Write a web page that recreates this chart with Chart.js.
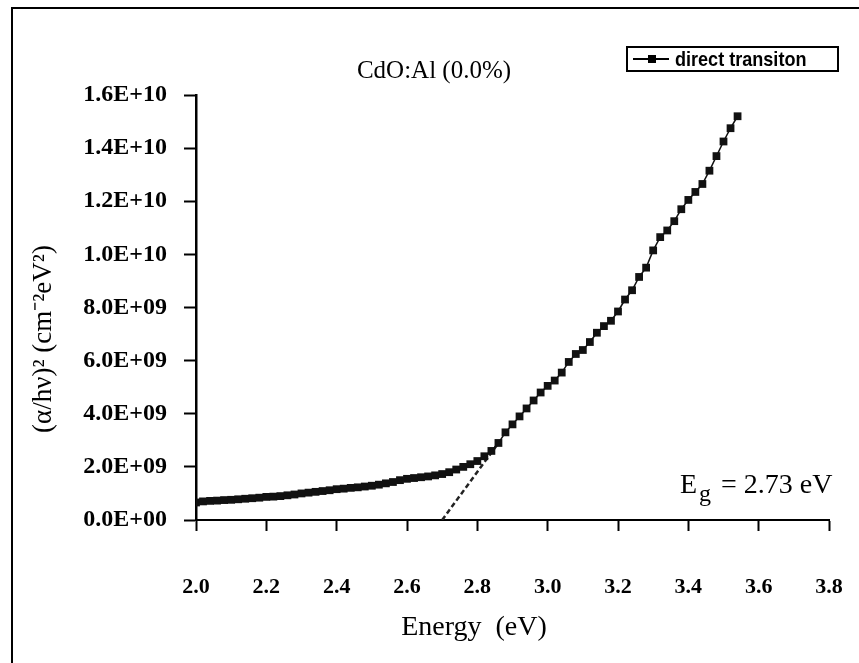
<!DOCTYPE html>
<html>
<head>
<meta charset="utf-8">
<script src="https://cdn.jsdelivr.net/npm/chart.js@4/dist/chart.umd.min.js"></script>
<style>
  html, body { margin: 0; padding: 0; background: #fff; }
  #wrap { width: 859px; height: 663px; }
</style>
</head>
<body>
<div id="wrap"><canvas id="chart" width="859" height="663"></canvas></div>
<script>
// photon energy (eV)
const energy = [
  2.00, 2.02, 2.04, 2.06, 2.08, 2.10, 2.12, 2.14, 2.16, 2.18,
  2.20, 2.22, 2.24, 2.26, 2.28, 2.30, 2.32, 2.34, 2.36, 2.38,
  2.40, 2.42, 2.44, 2.46, 2.48, 2.50, 2.52, 2.54, 2.56, 2.58,
  2.60, 2.62, 2.64, 2.66, 2.68, 2.70, 2.72, 2.74, 2.76, 2.78,
  2.80, 2.82, 2.84, 2.86, 2.88, 2.90, 2.92, 2.94, 2.96, 2.98,
  3.00, 3.02, 3.04, 3.06, 3.08, 3.10, 3.12, 3.14, 3.16, 3.18,
  3.20, 3.22, 3.24, 3.26, 3.28, 3.30, 3.32, 3.34, 3.36, 3.38,
  3.40, 3.42, 3.44, 3.46, 3.48, 3.50, 3.52, 3.54
];
// (alpha h nu)^2 in units of 1E9
const absorption = [
  0.66, 0.70, 0.72, 0.73, 0.75, 0.76, 0.78, 0.80, 0.82, 0.84,
  0.87, 0.88, 0.90, 0.93, 0.96, 1.00, 1.03, 1.06, 1.09, 1.12,
  1.16, 1.18, 1.21, 1.23, 1.26, 1.29, 1.33, 1.38, 1.43, 1.50,
  1.55, 1.58, 1.61, 1.64, 1.68, 1.73, 1.80, 1.90, 2.00, 2.10,
  2.22, 2.40, 2.60, 2.90, 3.30, 3.60, 3.90, 4.20, 4.50, 4.80,
  5.05, 5.25, 5.55, 5.95, 6.25, 6.40, 6.70, 7.05, 7.30, 7.50,
  7.85, 8.30, 8.65, 9.15, 9.50, 10.15, 10.65, 10.90, 11.25, 11.70,
  12.05, 12.35, 12.65, 13.15, 13.70, 14.25, 14.75, 15.20
];
// tangent used for the band gap extrapolation
const fitEnergy = [2.70, 2.86];
const fitAbsorption = [0.0, 2.9];

const xTicks = [2.0, 2.2, 2.4, 2.6, 2.8, 3.0, 3.2, 3.4, 3.6, 3.8];
const yTicks = [0, 2e9, 4e9, 6e9, 8e9, 1e10, 1.2e10, 1.4e10, 1.6e10];

const chartTitle = 'CdO:Al (0.0%)';
const seriesName = 'direct transiton';
const xTitle = 'Energy  (eV)';
const yTitle = '(\u03b1/h\u03bd)\u00b2 (cm\u207b\u00b2eV\u00b2)';
const gapValue = '= 2.73 eV';

const points = energy.map((e, i) => ({ x: e, y: absorption[i] * 1e9 }));
const fitPoints = fitEnergy.map((e, i) => ({ x: e, y: fitAbsorption[i] * 1e9 }));

function sciLabel(v) {
  const [m, e] = v.toExponential(1).toUpperCase().split('E');
  const sign = e[0];
  const digits = e.slice(1).padStart(2, '0');
  return m + 'E' + sign + digits;
}

const serif = '"Liberation Serif", "Times New Roman", serif';

const decor = {
  id: 'decor',
  afterDraw(chart) {
    const ctx = chart.ctx;
    ctx.save();
    ctx.fillStyle = '#000';
    ctx.strokeStyle = '#000';

    // outer frame (left + top only)
    ctx.lineWidth = 2;
    ctx.beginPath();
    ctx.moveTo(12, 663);
    ctx.lineTo(12, 8);
    ctx.lineTo(859, 8);
    ctx.stroke();

    // title
    ctx.font = '25px ' + serif;
    ctx.textAlign = 'center';
    ctx.textBaseline = 'middle';
    ctx.fillText(chartTitle, 434, 71);

    // legend box
    ctx.lineWidth = 2;
    ctx.strokeRect(627, 47, 211, 24);
    ctx.beginPath();
    ctx.moveTo(633, 59);
    ctx.lineTo(669, 59);
    ctx.stroke();
    ctx.fillRect(648, 55, 8, 8);
    ctx.save();
    ctx.translate(675, 60);
    ctx.scale(0.86, 1);
    ctx.font = 'bold 21px "Liberation Sans", sans-serif';
    ctx.textAlign = 'left';
    ctx.fillText(seriesName, 0, 0);
    ctx.restore();

    // x axis title
    ctx.font = '28px ' + serif;
    ctx.textAlign = 'center';
    ctx.fillText(xTitle, 474, 628);

    // y axis title
    ctx.save();
    ctx.translate(44, 339);
    ctx.rotate(-Math.PI / 2);
    ctx.font = '27px ' + serif;
    ctx.fillText(yTitle, 0, 0);
    ctx.restore();

    // band gap note
    ctx.textAlign = 'left';
    ctx.textBaseline = 'alphabetic';
    ctx.font = '28px ' + serif;
    ctx.fillText('E', 680, 493);
    ctx.font = '24px ' + serif;
    ctx.fillText('g', 699, 501);
    ctx.font = '28px ' + serif;
    ctx.fillText(gapValue, 721, 493);

    ctx.restore();
  }
};

new Chart(document.getElementById('chart'), {
  type: 'scatter',
  data: {
    datasets: [
      {
        label: seriesName,
        data: points,
        showLine: true,
        borderColor: '#111',
        backgroundColor: '#111',
        borderWidth: 1.5,
        pointStyle: 'rect',
        pointRadius: 5.5,
        pointBorderWidth: 0
      },
      {
        label: 'fit',
        data: fitPoints,
        showLine: true,
        borderColor: '#222',
        borderWidth: 2.5,
        borderDash: [5, 3],
        pointRadius: 0
      }
    ]
  },
  options: {
    responsive: false,
    animation: false,
    layout: { padding: { left: 0, top: 95, right: 30, bottom: 0 } },
    plugins: {
      legend: { display: false },
      title: { display: false },
      tooltip: { enabled: false }
    },
    scales: {
      x: {
        type: 'linear',
        min: 2.0,
        max: 3.8,
        afterBuildTicks: s => { s.ticks = xTicks.map(v => ({ value: v })); },
        afterFit: s => { s.height = 143; s.paddingLeft = 0; s.paddingRight = 0; },
        ticks: {
          color: '#000',
          font: { family: serif, size: 22, weight: 'bold' },
          padding: 43,
          maxRotation: 0,
          callback: v => Number(v).toFixed(1)
        },
        grid: { drawOnChartArea: false, drawTicks: true, tickLength: 11, tickWidth: 2, tickColor: '#000' },
        border: { display: true, color: '#000', width: 2 }
      },
      y: {
        min: 0,
        max: 1.6e10,
        afterBuildTicks: s => { s.ticks = yTicks.map(v => ({ value: v })); },
        afterFit: s => { s.width = 196; s.paddingTop = 0; s.paddingBottom = 0; },
        ticks: {
          color: '#000',
          font: { family: serif, size: 24, weight: 'bold' },
          padding: 17,
          callback: v => sciLabel(v)
        },
        grid: { drawOnChartArea: false, drawTicks: true, tickLength: 12, tickWidth: 2, tickColor: '#000' },
        border: { display: true, color: '#000', width: 2.5 }
      }
    }
  },
  plugins: [decor]
});
</script>
</body>
</html>
